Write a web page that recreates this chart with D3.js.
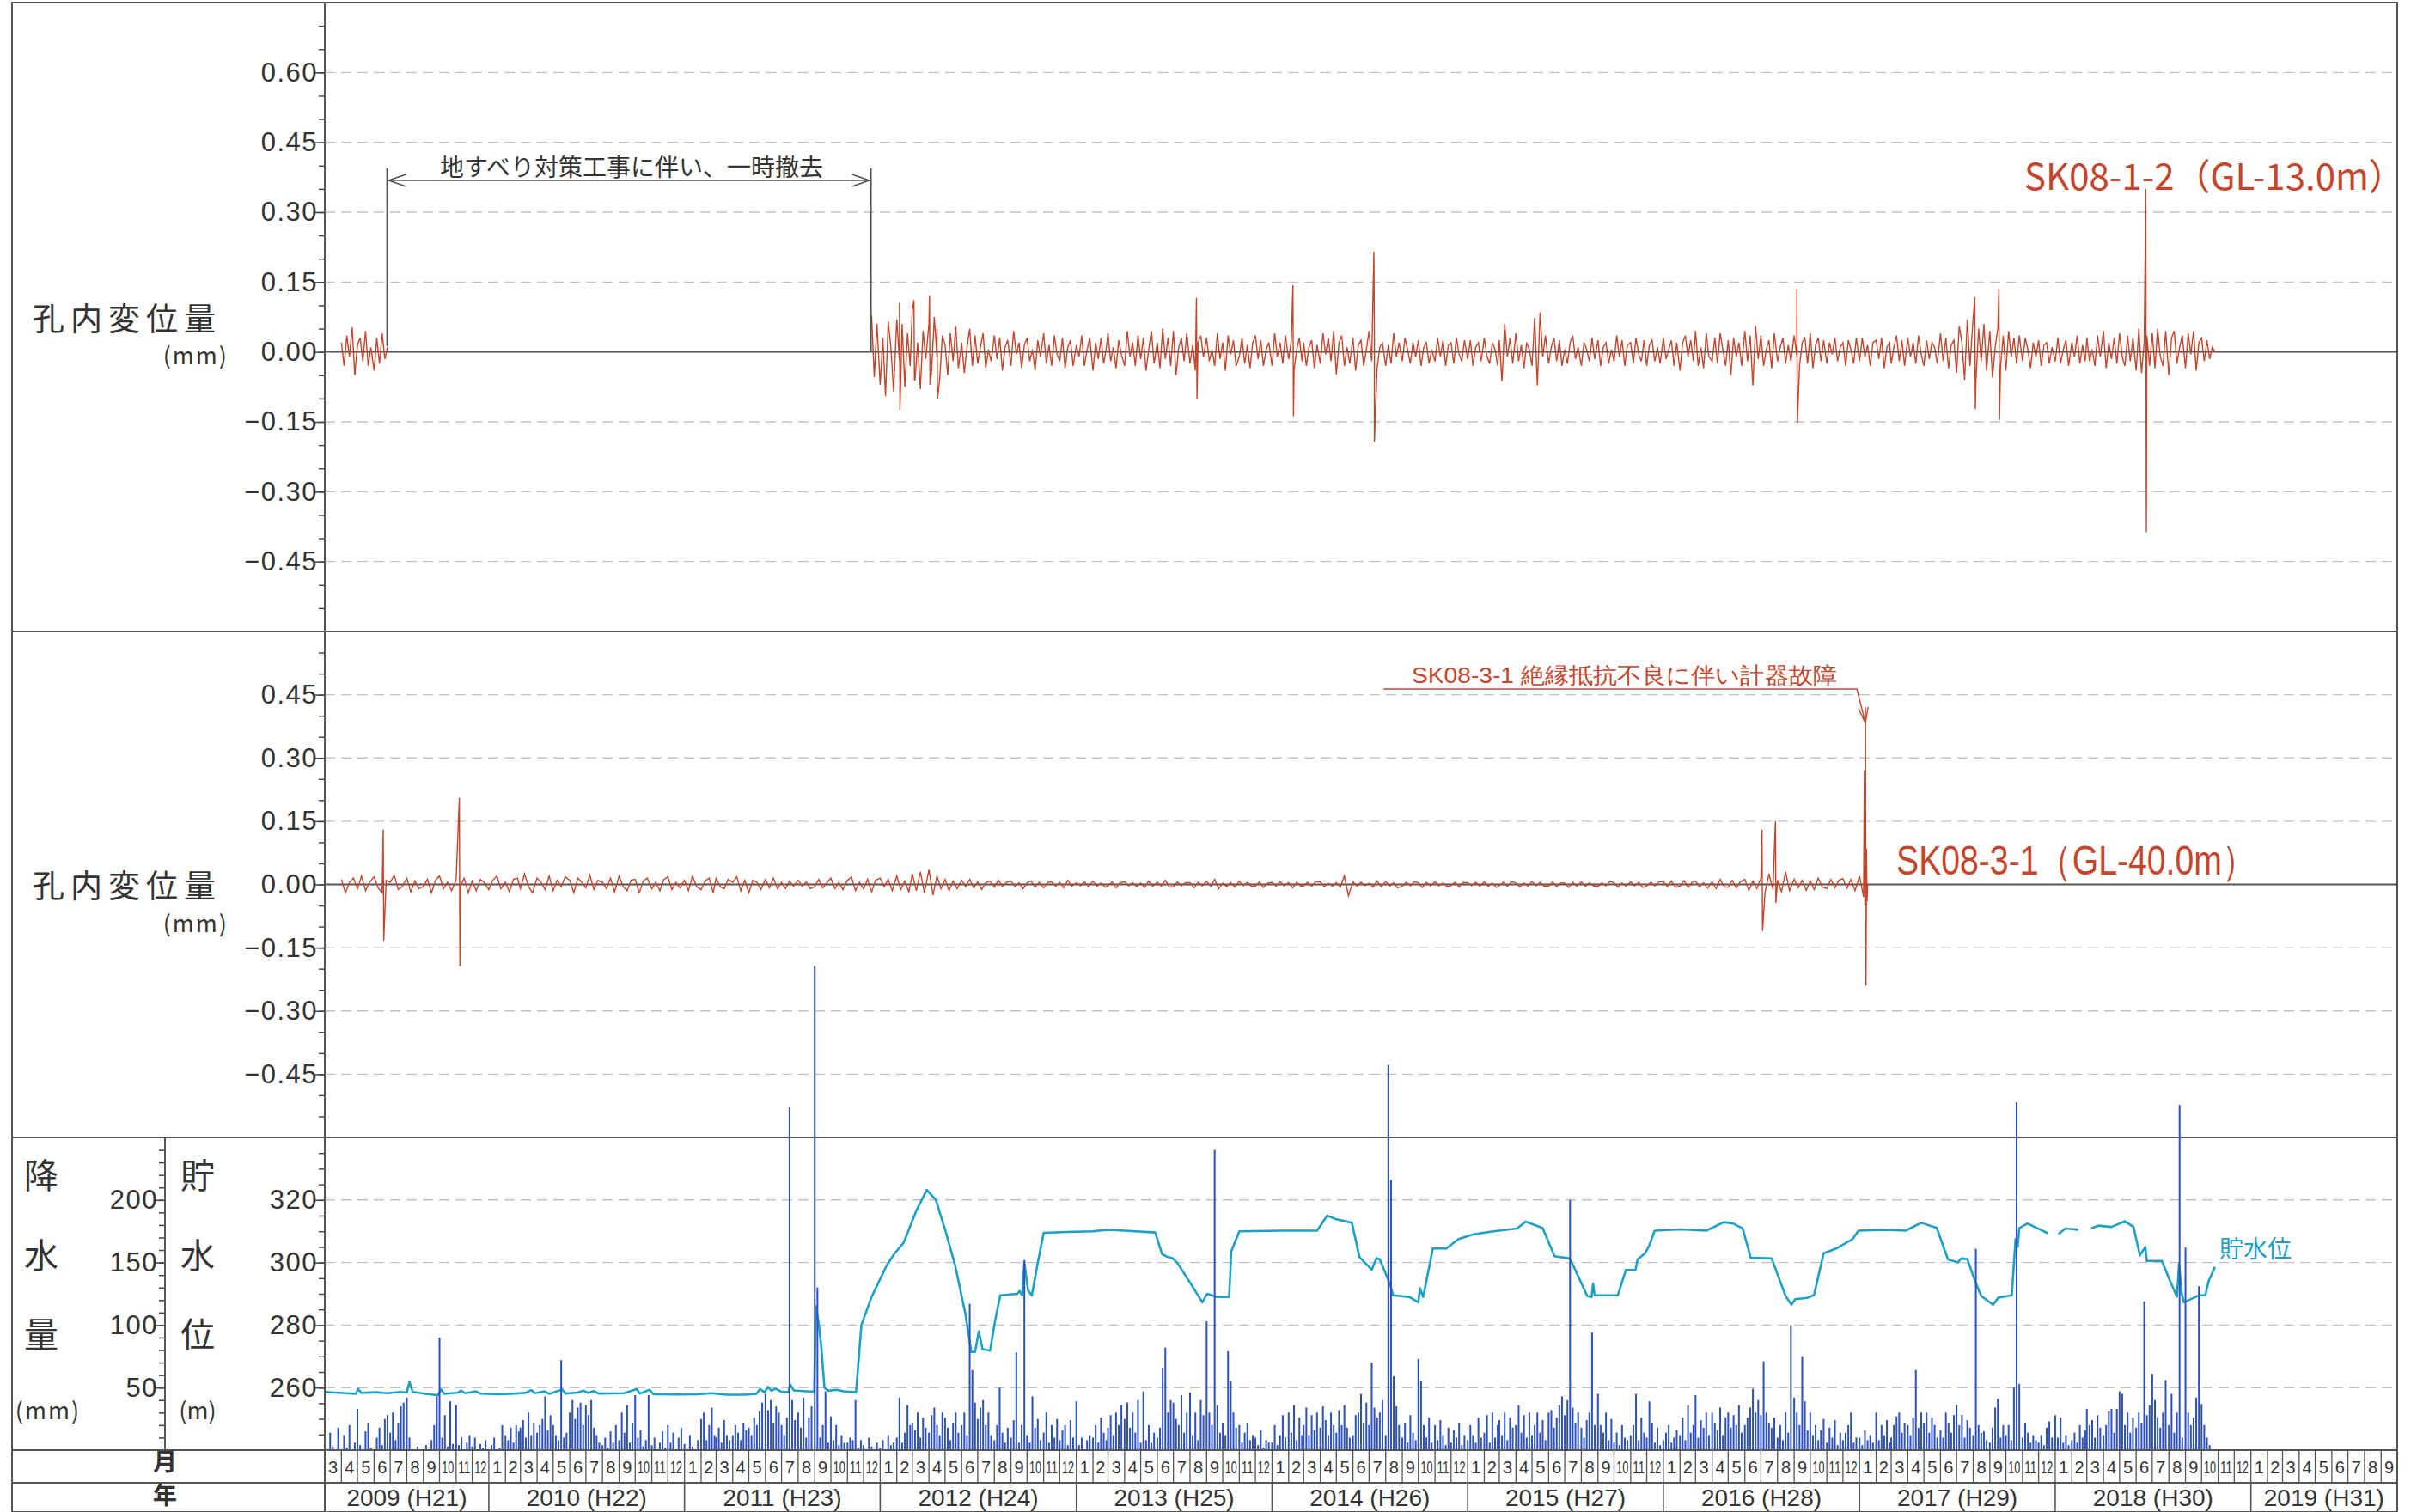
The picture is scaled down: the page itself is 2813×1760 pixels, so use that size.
<!DOCTYPE html>
<html><head><meta charset="utf-8">
<script src="https://cdn.jsdelivr.net/npm/d3@7"></script>
<style>body{margin:0;background:#fff}</style>
</head><body>
<svg id="c" width="2813" height="1760"></svg>
<script>
// ---------------- DATA ----------------
const monthLabels = ["1","2","3","4","5","6","7","8","9","10","11","12"];
const yearLabels = ["2009 (H21)","2010 (H22)","2011 (H23)","2012 (H24)","2013 (H25)","2014 (H26)","2015 (H27)","2016 (H28)","2017 (H29)","2018 (H30)","2019 (H31)"];
const timeStart = "2009-03-01", timeEnd = "2019-10-01";

// SK08-1-2 (GL-13.0m) displacement (mm), 6 readings per month
const sk12EarlyStart = "2009-04";
const sk12Early = [.02,-.03,.035,-.01,.053,-.05, .015,.03,-.02,.045,-.03,.01, -.04,.03,-.025,.04,-.015,.01];
const sk12MainStart = "2011-12";
const sk12Main = [
null,null,null,.078,-.054,.06,
// 2012
-.07,.03,-.095,.065,.01,-.085, .07,-.02,.06,-.075,.04,-.03, .09,-.06,.02,-.08,.045,-.015, .06,-.04,.075,-.01,-.06,.035,
.015,-.05,.04,-.02,.055,-.035, .02,-.045,.01,.05,-.03,.035, -.025,.01,.04,-.035,.005,-.02, .035,-.015,.03,-.04,.01,.025,
-.03,.045,-.005,.02,-.035,.015, .03,-.02,.005,-.04,.025,-.01, .04,-.025,.015,-.03,.035,-.005, -.02,.03,-.035,.01,.025,-.03,
// 2013
.015,-.01,.035,-.03,.005,.03, -.04,.02,-.015,.03,-.025,.01, .04,-.02,.01,-.035,.025,-.005, -.03,.045,-.01,.02,-.03,.035,
-.015,.03,-.04,.005,.045,-.025, .02,-.035,.05,-.015,.03,-.03, .045,-.05,.01,.03,-.02,.04, -.025,.015,-.04,.02,.035,-.01,
.03,-.02,.005,-.03,.04,-.015, .02,-.04,.035,-.005,.025,-.03, -.01,.03,-.025,.015,-.035,.02, .035,-.015,.025,-.03,.005,.02,
// 2014
-.03,.04,-.01,.02,-.025,.035, -.015,.025,-.04,.005,.03,-.02, .02,-.03,.01,.025,-.035,.015, -.025,.04,-.005,.03,-.02,.045,
-.048,.02,.035,-.03,.01,-.025, .03,-.04,.015,.025,-.03,.005, .045,-.02,.03,-.035,.01,.02, -.03,.015,-.025,.04,-.01,.02,
-.02,.03,.005,-.025,.02,-.01, .025,-.03,.01,.02,-.025,.005, -.02,.03,-.01,.025,-.03,.015, .02,-.025,.03,-.005,-.02,.025,
// 2015
-.015,.025,-.03,.01,.02,-.02, .03,-.01,-.025,.02,.005,-.03, .025,-.063,.06,-.01,.03,-.025, .04,-.02,.015,-.035,.02,.005,
-.03,.073,-.072,.085,-.01,.035, -.025,.01,.03,-.02,.025,-.03, .005,-.025,.02,.035,-.015,.01, -.03,.02,.005,-.02,.03,-.015,
.025,-.03,.01,.02,-.025,.005, -.02,.035,-.01,.025,-.03,.015, .02,-.025,.03,-.005,-.02,.025, -.03,.015,.025,-.02,.01,-.025,
// 2016
.03,-.015,.005,.025,-.03,.02, -.04,.02,.035,-.01,.025,-.02, .045,-.03,.01,-.035,.04,-.01, -.02,.03,-.025,.04,.005,-.03,
.025,-.05,.03,-.01,.02,-.03, .045,-.02,.035,-.072,.056,-.015, .035,-.03,.005,.025,-.035,.04, -.02,.01,.03,-.025,.015,-.02,
.035,-.01,-.03,.02,.03,-.025, .04,-.035,.015,.03,-.02,.025, -.025,.02,-.005,.03,-.02,.01, .02,-.03,.025,.005,-.025,.03,
// 2017
-.02,.03,-.01,.015,-.03,.02, .025,-.015,.03,-.035,.01,.02, -.025,.01,.035,-.02,.025,-.03, .03,-.01,.02,-.025,.035,-.005,
-.03,.025,-.015,.02,.01,-.025, .04,-.02,.03,-.035,.015,.025, -.045,.055,.02,-.06,.07,-.03, .075,-.065,.05,-.02,.06,-.04,
.045,-.055,.01,.05,-.03,.035, -.04,.045,-.01,.03,-.025,.035, -.02,.03,.005,-.035,.02,-.01, .025,-.03,.015,.02,-.025,.01,
// 2018
-.02,.03,-.025,.005,.025,-.03, .02,-.01,.035,-.025,.015,-.02, .03,-.02,.005,-.03,.035,-.01, .045,-.035,.02,-.015,.03,-.025,
.04,-.01,-.03,.035,-.02,.03, -.04,.05,-.045,.02,.035,-.03, .04,-.035,.05,-.01,-.03,.045, -.05,.03,.045,-.025,.01,.035,
-.035,.04,-.005,.045,-.04,.02, .03,-.02,.025,-.015,.01,0
];
const sk12SpikeDates = ["2012-02-06","2012-02-07","2012-03-04","2012-03-05","2012-04-02","2012-04-03","2012-04-16","2012-04-17",
 "2013-08-13","2013-08-14","2014-02-09","2014-02-10","2014-07-10","2014-07-11","2016-09-06","2016-09-07",
 "2017-08-04","2017-08-05","2017-09-18","2017-09-19","2018-06-19","2018-06-20"];
const sk12SpikeValues = [.105,-.124,.111,-.06,.122,-.07,.05,-.10, .116,-.10,.143,-.138,.215,-.193,.136,-.152, .118,-.123,.136,-.146,.35,-.387];

// SK08-3-1 (GL-40.0m) displacement (mm), 4 readings per month
const sk31Start = "2009-04";
const sk31 = [
// 2009
.012,-.02,.005,.015, -.01,.02,-.015,.005, .018,-.008,-.02,.01, .005,.022,-.012,-.005, .015,-.018,.008,-.01, -.005,.012,-.02,.01, .02,-.01,.005,-.015, .01,-.005,.015,-.02, .008,-.015,.012,.005,
// 2010
-.012,.01,.02,-.01, .005,-.018,.012,.015, -.01,.025,-.005,-.02, .015,.005,-.012,.02, -.015,.01,-.005,.018, .01,-.02,.015,.005, -.008,.022,-.012,.01, .005,-.01,.015,-.018, .02,-.005,-.015,.01, .012,-.02,.008,.015, -.01,.005,-.015,.012, .018,-.012,.005,-.008,
// 2011
.01,-.015,.02,-.005, -.012,.008,.015,-.02, .015,-.005,-.01,.012, .005,.018,-.015,.01, -.02,.01,.005,-.012, .012,-.008,.015,-.01, .005,-.01,.008,-.004, .01,-.004,.006,-.01, -.005,.012,-.008,.004, .015,-.01,.005,-.012, .01,.018,-.015,.005, -.01,.012,-.018,.01,
// 2012
.015,-.005,.012,-.015, .02,-.012,.008,-.018, .025,-.015,.03,-.02, .035,-.025,.02,-.01, .012,-.015,.008,-.01, .01,-.005,.012,-.008, .006,-.012,.004,.008, -.006,.01,-.004,.005, .008,-.005,.004,-.01, .004,.008,-.006,.005, -.008,.005,.006,-.004, .005,-.008,.01,-.004,
// 2013
.004,-.003,.006,-.005, .008,-.004,.003,-.006, -.004,.006,-.008,.004, .006,-.003,.004,-.005, .003,-.007,.008,-.004, .005,-.004,.01,-.006, -.005,.006,-.003,.004, .004,-.008,.005,-.003, .007,-.004,.012,-.01, .003,-.005,.004,-.006, .008,-.003,.005,-.004, -.004,.006,-.007,.003,
// 2014
.005,-.004,.007,-.003, .004,-.008,.005,-.004, -.003,.005,-.004,.006, .006,-.005,.003,-.004, .004,-.006,.02,-.027, .006,-.004,.005,-.003, .003,-.006,.008,-.005, .007,-.004,.004,-.008, -.004,.005,-.003,.006, .004,-.007,.005,-.003, .006,-.003,.004,-.005, -.003,.005,-.006,.004,
// 2015
.004,-.003,.005,-.004, .006,-.004,.003,-.007, -.003,.005,-.004,.006, .004,-.006,.003,-.004, .007,-.003,.005,-.004, -.004,.006,-.005,.003, .003,-.007,.005,-.004, .006,-.004,.004,-.003, -.005,.004,-.003,.007, .004,-.006,.003,-.004, .006,-.003,.005,-.007, -.004,.005,-.003,.006,
// 2016
.007,-.005,.008,-.006, -.004,.009,-.007,.005, .008,-.006,.004,-.009, .006,-.01,.012,-.005, -.007,.01,-.008,.006, .012,-.015,.008,-.01, .015,-.02,.025,-.012, .01,-.018,.03,-.015, .012,-.008,.01,-.014, .008,-.012,.015,-.006, -.01,.012,-.008,.01, .014,-.009,.012,-.015,
// 2017
.02,-.03
];
const sk31SpikeDates = ["2009-06-18","2009-06-19","2009-11-07","2009-11-08","2016-07-03","2016-07-04","2016-07-28","2016-07-29",
 "2017-01-10","2017-01-11","2017-01-12","2017-01-13","2017-01-14","2017-01-15","2017-01-16"];
const sk31SpikeValues = [.13,-.133,.205,-.194,.13,-.11,.15,-.044, .27,-.05,.42,-.24,.085,-.04,0];

// daily rainfall (mm), 6 readings per month from 2009-03
const rainStart = "2009-03";
const rain = [
// 2009
8,0,14,3,0,18, 0,12,2,20,0,6, 33,4,0,15,22,2, 0,10,18,4,25,28, 14,30,8,22,35,38, 42,10,0,0,3,0, 0,4,0,8,20,43, 90,10,28,3,39,5, 36,4,10,0,6,12, 3,10,0,5,2,8,
// 2010
0,4,10,0,2,20, 12,8,18,6,20,15, 18,24,10,30,12,22, 14,20,25,43,16,28, 20,12,8,72,10,14, 30,40,25,34,38,20, 36,28,40,18,12,6, 4,10,2,15,6,20, 8,30,14,36,6,22, 44,10,16,3,8,44, 4,10,0,6,15,2, 20,6,14,0,10,18,
// 2011
5,0,12,3,0,8, 25,30,8,20,34,12, 10,18,6,24,12,8, 12,20,14,8,22,16, 18,12,26,20,31,38, 45,32,40,22,35,30, 20,12,26,274,40,24, 30,18,42,10,26,35, 387,130,10,20,47,6, 27,8,20,4,12,6, 6,10,8,40,2,8, 4,0,10,3,0,6,
// 2012
2,8,0,12,4,6, 10,42,6,14,36,20, 22,16,30,10,26,18, 14,28,34,20,12,30, 26,18,8,22,30,14, 20,30,12,117,64,38, 25,34,40,20,30,12, 8,20,50,14,6,18, 10,24,78,6,20,152, 12,6,43,18,25,8, 14,30,6,20,10,25, 8,16,20,4,24,10,
// 2013
39,4,10,0,8,12, 10,20,6,26,14,8, 18,28,12,30,20,36, 25,38,18,30,14,40, 6,47,8,20,6,14, 10,18,66,82,30,40, 38,25,20,44,14,30, 46,12,30,8,40,28, 103,30,20,240,36,14, 22,12,79,55,30,18, 20,6,14,22,8,12, 10,4,16,2,8,6,
// 2014
6,20,4,12,28,10, 30,14,36,8,26,12, 20,34,12,28,16,30, 18,35,24,12,30,20, 14,32,20,36,18,10, 12,28,30,45,22,38, 20,70,34,26,30,40, 12,308,216,59,35,20, 10,22,6,28,14,8, 73,55,20,10,26,6, 20,8,24,12,4,18, 6,16,10,22,4,12,
// 2015
8,20,12,6,26,10, 14,28,6,30,10,20, 24,12,30,8,26,18, 20,36,14,28,10,30, 12,20,30,14,24,8, 30,32,18,26,36,43, 28,40,200,34,22,30, 18,10,24,30,94,20, 45,20,14,30,8,25, 6,14,4,20,10,8, 12,20,45,8,26,14, 10,39,22,6,18,4,
// 2016
8,14,20,6,10,16, 12,26,8,36,14,20, 44,10,24,18,30,12, 30,22,16,34,12,26, 30,18,28,20,36,14, 20,26,34,49,30,40, 28,71,30,22,18,26, 10,20,8,30,14,100, 42,30,20,75,39,16, 30,12,20,8,16,25, 6,18,10,24,4,14, 8,14,20,30,6,10,
// 2017
10,4,16,8,12,6, 30,8,20,12,24,6, 10,20,27,30,14,22, 20,12,26,64,18,30, 22,30,14,26,20,10, 16,10,30,22,14,28, 36,20,28,10,24,18, 12,161,20,14,15,8, 6,18,34,41,10,20, 12,20,8,50,278,53, 10,22,14,6,12,8, 6,12,4,18,23,10,
// 2018
28,10,26,6,12,4, 8,14,6,20,10,16, 33,20,24,10,28,18, 12,20,31,33,14,33, 47,45,20,30,14,26, 18,30,22,119,28,36, 61,40,26,18,30,56, 20,45,14,30,276,10, 162,30,20,26,42,131, 37,20,10,4
];

// reservoir water level (m)
const wlDates = ["2009-03-01","2009-03-20","2009-04-10","2009-04-28","2009-05-02","2009-05-08","2009-06-05","2009-06-25","2009-07-20","2009-08-01","2009-08-06","2009-08-12","2009-09-05","2009-09-28","2009-10-04","2009-10-10","2009-11-05","2009-11-10","2009-11-18","2009-12-08","2009-12-16",
"2010-01-20","2010-02-20","2010-03-10","2010-03-21","2010-03-28","2010-04-15","2010-04-24","2010-05-18","2010-05-24","2010-06-15","2010-06-27","2010-07-05","2010-07-15","2010-07-25","2010-09-10","2010-10-04","2010-10-10","2010-10-28","2010-11-04","2010-12-20",
"2011-01-25","2011-02-20","2011-03-20","2011-04-25","2011-05-15","2011-05-22","2011-05-30","2011-06-06","2011-06-12","2011-06-20","2011-06-30","2011-07-14","2011-07-17","2011-07-24","2011-08-10","2011-08-31","2011-09-03","2011-09-08","2011-09-13","2011-09-19","2011-09-26","2011-10-12","2011-10-25","2011-11-17","2011-11-27","2011-12-16",
"2012-01-13","2012-01-27","2012-02-14","2012-03-08","2012-03-28","2012-04-14","2012-05-02","2012-05-20","2012-06-08","2012-06-19","2012-06-26","2012-07-03","2012-07-10","2012-07-24","2012-08-02","2012-08-12","2012-09-13","2012-09-17","2012-09-22","2012-09-26","2012-10-03","2012-10-10","2012-10-20","2012-11-01","2012-12-15",
"2013-02-01","2013-03-01","2013-04-01","2013-05-28","2013-06-10","2013-06-20","2013-06-29","2013-07-08","2013-08-01","2013-08-24","2013-09-02","2013-09-20","2013-10-13","2013-10-17","2013-11-01",
"2014-01-15","2014-03-26","2014-04-14","2014-04-28","2014-05-30","2014-06-13","2014-07-06","2014-07-15","2014-07-21","2014-08-08","2014-08-15","2014-09-14","2014-10-01","2014-10-04","2014-10-10","2014-10-28","2014-11-22","2014-12-15",
"2015-01-12","2015-02-18","2015-04-03","2015-04-19","2015-05-21","2015-06-12","2015-07-10","2015-07-17","2015-08-12","2015-08-20","2015-08-23","2015-08-26","2015-10-08","2015-10-23","2015-11-10","2015-11-14","2015-11-28","2015-12-05","2015-12-16",
"2016-02-01","2016-03-21","2016-04-23","2016-05-10","2016-05-28","2016-06-12","2016-07-21","2016-08-16","2016-08-27","2016-09-03","2016-09-25","2016-10-08","2016-10-26","2016-11-21","2016-12-19","2016-12-30",
"2017-02-18","2017-03-28","2017-04-26","2017-05-25","2017-06-15","2017-07-03","2017-07-10","2017-07-21","2017-08-05","2017-08-16","2017-09-07","2017-09-17","2017-10-12","2017-10-19","2017-10-23","2017-10-26","2017-11-10","2017-11-21","2017-12-19","2017-12-24",
"2018-01-07","2018-01-20","2018-02-13","2018-02-20","2018-03-09","2018-03-22","2018-04-16","2018-05-11","2018-05-27","2018-06-08","2018-06-18","2018-06-21","2018-07-19","2018-08-01","2018-08-16","2018-08-20","2018-08-25","2018-08-29","2018-09-26","2018-10-08","2018-10-14","2018-10-26"];
const wlValues = [258.6,258.4,258.2,258.0,259.6,258.3,258.5,258.2,258.6,258.4,261.8,258.6,258.0,257.6,259.4,258.0,258.4,259.1,258.2,258.8,258.1,
257.9,258.1,258.3,259.2,258.2,258.8,258.0,259.4,258.1,258.4,259.0,258.3,258.9,258.1,258.2,259.5,258.1,259.3,257.9,257.8,
257.9,258.2,257.7,257.7,258.0,259.6,258.5,260.2,259.0,259.7,258.7,258.6,261.0,259.1,258.9,258.7,286.0,281.0,273.5,260.0,259.0,259.3,258.8,258.5,280.0,289.0,
299.0,302.7,306.4,316.4,323.2,320.0,310.0,299.0,283.6,271.4,271.4,278.0,272.3,271.8,281.0,289.5,290.0,290.9,289.5,300.0,291.0,289.5,299.0,309.5,309.8,
310.0,310.5,310.2,309.6,302.7,301.8,301.4,300.0,293.6,287.3,290.0,289.0,289.0,303.6,310.0,
310.2,310.2,315.0,314.0,312.7,301.8,297.7,301.4,301.0,293.6,289.5,289.0,287.3,291.8,289.0,304.5,304.5,307.5,
309.0,310.0,310.9,313.1,311.0,302.0,301.3,299.0,289.3,289.0,293.2,289.5,289.5,297.6,297.6,301.0,303.0,305.2,310.2,
310.6,310.2,312.9,312.5,310.9,301.5,301.3,289.3,286.5,288.3,288.7,289.6,302.9,304.7,307.5,310.2,
310.5,310.2,312.7,311.1,301.0,300.0,301.3,301.1,293.8,289.3,286.5,288.8,289.5,307.5,305.0,311.0,312.5,311.6,309.3,null,
309.1,310.9,310.5,null,310.9,311.8,311.4,313.2,311.4,302.3,305.0,300.5,300.5,295.0,289.1,299.5,290.0,287.3,289.5,289.5,294.0,298.6];

// ---------------- CHART ----------------
const svg = d3.select("#c");
const RED = "#c4452b", TEAL = "#1ca0c4", BLUE = "#2c50bd", INK = "#333", FRAME = "#555", GRID = "#c2c2c2";
const NUM = "'Liberation Sans Narrow','Arial Narrow','Liberation Sans',sans-serif";
const JP = "'Noto Sans CJK JP','Noto Sans',sans-serif";
const L = 378, R = 2790, FL = 14, TOP = 3;
const P1 = [735, 3], P2 = [1324, 735], P3 = [1688, 1324], MROW = [1688, 1726], YROW = [1726, 1760];

const pd = d3.utcParse("%Y-%m-%d");
const x = d3.scaleUtc().domain([pd(timeStart), pd(timeEnd)]).range([L, R]);
const y1 = d3.scaleLinear().domain([-0.6, 0.75]).range(P1);
const y2 = d3.scaleLinear().domain([-0.6, 0.6]).range(P2);
const yW = d3.scaleLinear().domain([240, 340]).range(P3);
const yR = d3.scaleLinear().domain([0, 250]).range(P3);

function slots(startYM, values, perMonth) {
  const [yy, mm] = startYM.split("-").map(Number);
  return values.map((v, i) => ({
    date: new Date(Date.UTC(yy, mm - 1 + Math.floor(i / perMonth), 1) + (i % perMonth) * (30 / perMonth) * 864e5),
    value: v
  })).filter(d => d.value != null);
}
const pairs = (dates, vals) => dates.map((d, i) => ({date: pd(d), value: vals[i]}));
const fmt = d => (d < 0 ? "−" : "") + Math.abs(d).toFixed(2);

function grid(scale, vals) {
  svg.append("g").selectAll("line").data(vals).join("line")
    .attr("x1", L).attr("x2", R).attr("y1", d => scale(d)).attr("y2", d => scale(d))
    .attr("stroke", GRID).attr("stroke-width", 1.4).attr("stroke-dasharray", "12,7");
}
const maj1 = [-0.45, -0.30, -0.15, 0, 0.15, 0.30, 0.45, 0.60];
const maj2 = [-0.45, -0.30, -0.15, 0, 0.15, 0.30, 0.45];
const majW = [260, 280, 300, 320];
const majR = [50, 100, 150, 200];
grid(y1, maj1.filter(d => d !== 0));
grid(y2, maj2.filter(d => d !== 0));
grid(yW, majW);

[y1, y2].forEach(s => svg.append("line").attr("x1", L).attr("x2", R)
  .attr("y1", s(0)).attr("y2", s(0)).attr("stroke", "#555").attr("stroke-width", 1.8));

function axis(scale, xpos, majors, minors, f, fs) {
  const g1 = svg.append("g").attr("transform", `translate(${xpos},0)`)
    .call(d3.axisLeft(scale).tickValues(minors).tickSize(7).tickSizeOuter(0).tickFormat(""));
  const g2 = svg.append("g").attr("transform", `translate(${xpos},0)`)
    .call(d3.axisLeft(scale).tickValues(majors).tickSize(13).tickSizeOuter(0).tickPadding(-5).tickFormat(f));
  [g1, g2].forEach(g => { g.select(".domain").remove(); g.selectAll("line").attr("stroke", "#444").attr("stroke-width", 1.5); });
  g2.selectAll("text").attr("font-family", NUM).attr("font-size", fs).attr("fill", INK).attr("letter-spacing", 1.5);
}
const range = (a, b, s) => d3.range(Math.round(a / s), Math.round(b / s) + 1).map(i => +(i * s).toFixed(3));
axis(y1, L, maj1, range(-0.55, 0.70, 0.05), fmt, 31);
axis(y2, L, maj2, range(-0.55, 0.55, 0.05), fmt, 31);
axis(yW, L, majW, range(245, 335, 5), d => d, 31);
axis(yR, 192, majR, range(10, 240, 10), d => d, 31);

// water level line
const wl = pairs(wlDates, wlValues);
svg.append("path").datum(wl)
  .attr("d", d3.line().defined(d => d.value != null).x(d => x(d.date)).y(d => yW(d.value)))
  .attr("fill", "none").attr("stroke", TEAL).attr("stroke-width", 2.6).attr("stroke-linejoin", "round");

// rainfall bars
const rainData = slots(rainStart, rain, 6);
svg.append("g").selectAll("rect").data(rainData.filter(d => d.value > 0)).join("rect")
  .attr("x", d => x(d.date) - 1).attr("width", 2)
  .attr("y", d => yR(d.value)).attr("height", d => yR(0) - yR(d.value))
  .attr("fill", BLUE);

// displacement lines
const line1 = d3.line().x(d => x(d.date)).y(d => y1(d.value));
const line2 = d3.line().x(d => x(d.date)).y(d => y2(d.value));
const early = slots(sk12EarlyStart, sk12Early, 6);
const main12 = slots(sk12MainStart, sk12Main, 6).concat(pairs(sk12SpikeDates, sk12SpikeValues)).sort((a, b) => a.date - b.date);
const s31 = slots(sk31Start, sk31, 4).concat(pairs(sk31SpikeDates, sk31SpikeValues)).sort((a, b) => a.date - b.date);
[[early, line1], [main12, line1], [s31, line2]].forEach(([d, ln]) =>
  svg.append("path").datum(d).attr("d", ln).attr("fill", "none").attr("stroke", RED).attr("stroke-width", 1.4));

// frame and table lines
const fr = svg.append("g").attr("stroke", FRAME).attr("stroke-width", 2).attr("fill", "none");
fr.append("rect").attr("x", FL).attr("y", TOP).attr("width", R - FL).attr("height", 1760 - TOP);
[735, 1324, 1688, 1726].forEach(yy => fr.append("line").attr("x1", FL).attr("x2", R).attr("y1", yy).attr("y2", yy));
fr.append("line").attr("x1", L).attr("x2", L).attr("y1", TOP).attr("y2", 1760);
fr.append("line").attr("x1", 192).attr("x2", 192).attr("y1", 1324).attr("y2", 1688);

// month row
const months = d3.utcMonth.range(pd(timeStart), pd(timeEnd));
const mg = svg.append("g");
mg.selectAll("line").data(months.slice(1)).join("line")
  .attr("x1", d => x(d)).attr("x2", d => x(d)).attr("y1", MROW[0]).attr("y2", MROW[1])
  .attr("stroke", FRAME).attr("stroke-width", 1.3);
mg.selectAll("text").data(months).join("text")
  .attr("x", d => (x(d) + x(d3.utcMonth.offset(d, 1))) / 2).attr("y", 1715)
  .attr("text-anchor", "middle").attr("font-family", NUM).attr("font-size", 20).attr("fill", INK)
  .each(function (d) {
    const t = monthLabels[d.getUTCMonth()];
    d3.select(this).text(t);
    if (t.length > 1) d3.select(this).attr("textLength", 14).attr("lengthAdjust", "spacingAndGlyphs");
  });

// year row
const years = d3.range(2009, 2020);
const yg = svg.append("g");
yg.selectAll("line").data(years.slice(1)).join("line")
  .attr("x1", d => x(new Date(Date.UTC(d, 0, 1)))).attr("x2", d => x(new Date(Date.UTC(d, 0, 1))))
  .attr("y1", YROW[0]).attr("y2", YROW[1]).attr("stroke", FRAME).attr("stroke-width", 1.6);
yg.selectAll("text").data(years).join("text")
  .attr("x", d => (Math.max(L, x(new Date(Date.UTC(d, 0, 1)))) + Math.min(R, x(new Date(Date.UTC(d + 1, 0, 1))))) / 2)
  .attr("y", 1753).attr("text-anchor", "middle").attr("font-family", NUM).attr("font-size", 28).attr("fill", INK)
  .text((d, i) => yearLabels[i]);

// texts
function txt(t, xx, yy, fs, opt = {}) {
  return svg.append("text").attr("x", xx).attr("y", yy).attr("font-size", fs)
    .attr("font-family", opt.font || JP).attr("fill", opt.fill || INK)
    .attr("text-anchor", opt.anchor || "start").attr("letter-spacing", opt.ls || 0)
    .attr("font-weight", opt.weight || "normal").text(t);
}
txt("孔内変位量", 38, 385, 37, {ls: 7});
txt("(mm)", 266, 424, 27, {anchor: "end", ls: 2});
txt("孔内変位量", 38, 1045, 37, {ls: 7});
txt("(mm)", 266, 1085, 27, {anchor: "end", ls: 2});
[["降", 1383], ["水", 1476], ["量", 1568]].forEach(([c, yy]) => txt(c, 48, yy, 40, {anchor: "middle"}));
[["貯", 1383], ["水", 1476], ["位", 1568]].forEach(([c, yy]) => txt(c, 230, yy, 40, {anchor: "middle"}));
txt("(mm)", 56, 1652, 27, {anchor: "middle", ls: 2});
txt("(m)", 230, 1652, 27, {anchor: "middle"});
txt("月", 192, 1712, 28, {anchor: "middle", weight: "bold"});
txt("年", 192, 1751, 28, {anchor: "middle", weight: "bold"});

// annotations
txt("地すべり対策工事に伴い、一時撤去", 735, 205, 28, {anchor: "middle"});
const an = svg.append("g").attr("stroke", "#555").attr("stroke-width", 1.6).attr("fill", "none");
const xa = x(pd("2009-06-25")), xb = x(pd("2011-12-15"));
an.append("path").attr("d", `M${xa},403 V196 M${xb},409 V196 M${xa + 2},210 H${xb - 2}`);
an.append("path").attr("d", `M${xa + 22},203 L${xa + 2},210 L${xa + 22},217 M${xb - 22},203 L${xb - 2},210 L${xb - 22},217`);

txt("SK08-1-2（GL-13.0m）", 2356, 221, 42, {fill: RED});
txt("SK08-3-1（GL-40.0m）", 2207, 1018, 48, {font: NUM, fill: RED})
  .attr("textLength", 418).attr("lengthAdjust", "spacingAndGlyphs");
txt("SK08-3-1 絶縁抵抗不良に伴い計器故障", 1643, 795, 26, {font: NUM, fill: RED})
  .attr("textLength", 495).attr("lengthAdjust", "spacingAndGlyphs");
const xs = x(pd("2017-01-12"));
svg.append("path").attr("d", `M1610,802 H${xs - 10} L${xs},842 M${xs - 8},825 L${xs},842 L${xs + 3},823`)
  .attr("fill", "none").attr("stroke", RED).attr("stroke-width", 1.4);
txt("貯水位", 2583, 1464, 28, {fill: TEAL});
</script>
</body></html>
